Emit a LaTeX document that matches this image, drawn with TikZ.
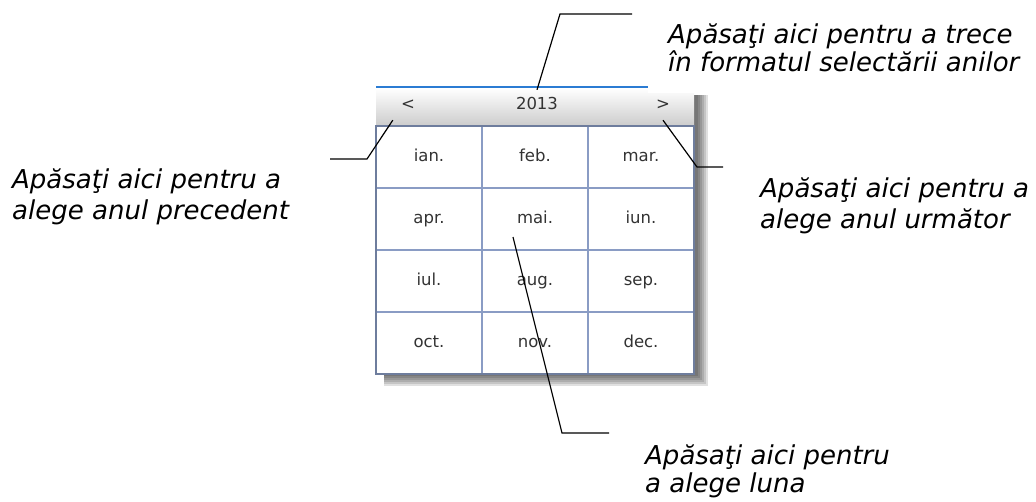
\documentclass[tikz,border=0pt]{standalone}
\usepackage{fontspec}
\setmainfont{DejaVu Sans}
\usetikzlibrary{positioning}
\definecolor{gridblue}{HTML}{8A9CC4}
\definecolor{topblue}{HTML}{2B7CD3}
\definecolor{celltext}{HTML}{333333}

\begin{document}
\begin{tikzpicture}[x=1pt,y=-1pt,
  every node/.style={font=\fontsize{16.5}{18}\selectfont,text=celltext},
  cell/.style={draw=gridblue,line width=1.2pt,minimum width=106pt,minimum height=62pt,
    inner sep=0pt,text height=12pt,text depth=3.5pt},
  hdr/.style={minimum height=30pt,minimum width=30pt,inner sep=0pt,text height=12pt,text depth=3.5pt},
  note/.style={font=\fontsize{26}{31}\selectfont\itshape,text=black,align=left,inner sep=0pt},
  tightnote/.style={note,font=\fontsize{26}{28}\selectfont\itshape},
  leader/.style={line width=1.2pt}]
\useasboundingbox (0,0) rectangle (1036,501);
% drop shadow of the calendar
\foreach \d in {0,2,...,10}
  \fill[black,opacity=0.12] (384,95) rectangle (698+\d,376+\d);
% header bar
\shade[top color=white,bottom color=black!20] (376,88) rectangle (694,126);
\draw[topblue,line width=1.5pt] (376,87) -- (648,87);
\fill[white] (648,78) rectangle (716,93);
\node[hdr] (prev) at (408,105) {<};
\node[hdr] (year) at (537,105) {2013};
\node[hdr] (next) at (663,105) {>};
% month cells
\foreach \nm/\txt/\cx/\cy in {ian/ian./0/0,feb/feb./1/0,mar/mar./2/0,
    apr/apr./0/1,mai/mai./1/1,iun/iun./2/1,
    iul/iul./0/2,aug/aug./1/2,sep/sep./2/2,
    oct/oct./0/3,nov/nov./1/3,dec/dec./2/3}
  \node[cell,fill=white] (\nm) at (429+106*\cx,157+62*\cy) {\txt};
\draw[gridblue!80!black,line width=1.2pt] (376,126) rectangle (694,374);
% callout texts (base = last line)
\node[tightnote,anchor=base west] (lblyear) at (668,71) {Apăsaţi aici pentru a trece\\în formatul selectării anilor};
\node[note,anchor=base west] (lblprev) at (12,219) {Apăsaţi aici pentru a\\alege anul precedent};
\node[note,anchor=base west] (lblnext) at (760,228) {Apăsaţi aici pentru a\\alege anul următor};
\node[tightnote,anchor=base west] (lblmonth) at (645,492) {Apăsaţi aici pentru\\a alege luna};
% leader lines
\coordinate (kyear) at (560,14);
\coordinate (eyear) at (632,14);
\coordinate (kprev) at (367,159);
\coordinate (eprev) at (330,159);
\coordinate (knext) at (697,167);
\coordinate (enext) at (723,167);
\coordinate (tmai) at (513,237);
\coordinate (kmai) at (562,433);
\coordinate (emai) at (609,433);
\draw[leader] (year.north) -- (kyear) -- (eyear);
\draw[leader] (prev.south west) -- (kprev) -- (eprev);
\draw[leader] (next.south) -- (knext) -- (enext);
\draw[leader] (tmai) -- (kmai) -- (emai);
\end{tikzpicture}
\end{document}
